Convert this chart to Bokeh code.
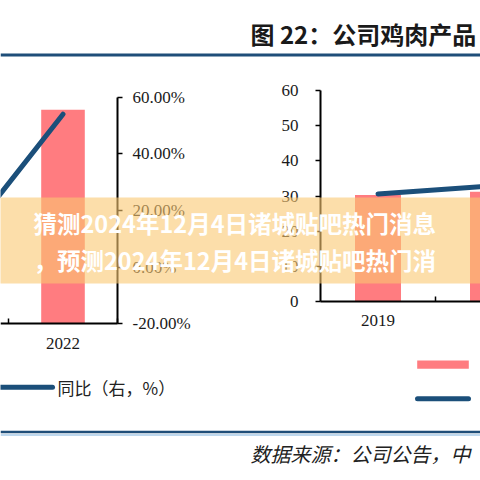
from bokeh.plotting import figure
from bokeh.models import Range1d, LinearAxis, FixedTicker, PrintfTickFormatter, Span
from bokeh.core.properties import value
from bokeh.embed import file_html
from bokeh.resources import INLINE

# ---------------- data ----------------
left_bar_years = [2022]
left_bar_values = [75.6]            # value on the (cropped) left axis
left_line_years = [2021, 2022]
left_yoy_pct = [5.0, 54.0]          # 同比（右，%）
left_pct_ticks = [-20, 0, 20, 40, 60]
left_year_ticks = [2022]
left_year_bounds_ticks = [2021.5, 2022.5]

right_years = [2019, 2020]
right_bar_values = [30.3, 31.2]
right_line_values = [30.6, 32.9]
right_value_ticks = [0, 10, 20, 30, 40, 50, 60]
right_year_ticks = [2019, 2020]
right_year_bounds_ticks = [2019.5, 2020.5]

title_text = "图 22：公司鸡肉产品"
banner_line1 = "猜测2024年12月4日诸城贴吧热门消息"
banner_line2 = "，预测2024年12月4日诸城贴吧热门消"
left_legend_label = "同比（右，%）"
source_text = "数据来源：公司公告，中"

# ---------------- styles ----------------
BAR = "#FF7C80"
LINE = "#1B4F7A"
RULE = "#1F4E79"
TXT = "#1a1a1a"
SERIF = "Liberation Serif"
CJK = "Noto Sans CJK SC"

# The figure covers the whole 480x480 picture.
PX_LO, PX_HI = 0, 480


def span_range(v_a, px_a, v_b, px_b, px_start, px_end):
    k = (v_b - v_a) / (px_b - px_a)
    return Range1d(start=v_a + (px_start - px_a) * k, end=v_a + (px_end - px_a) * k)


p = figure(width=480, height=480,
           x_range=Range1d(PX_LO, PX_HI), y_range=Range1d(PX_HI, PX_LO),
           x_axis_type=None, y_axis_type=None,
           toolbar_location=None, output_backend="svg",
           min_border=0, outline_line_color=None,
           border_fill_color="white", background_fill_color="white")

# chart scales (anchored to where each chart sits in the picture)
p.extra_x_ranges = {
    "lx": span_range(2022, 62.5, 2023, 62.5 + 109, PX_LO, PX_HI),
    "rx": span_range(2019, 377.5, 2020, 377.5 + 115, PX_LO, PX_HI),
}
p.extra_y_ranges = {
    "lpct": span_range(-20, 323.3, 60, 96.7, PX_HI, PX_LO),
    "lval": span_range(0, 323.3, 80, 96.7, PX_HI, PX_LO),
    "ry": span_range(0, 301, 60, 90, PX_HI, PX_LO),
}

# ---------------- left chart ----------------
p.vbar(x=left_bar_years, top=left_bar_values, bottom=0, width=0.4,
       x_range_name="lx", y_range_name="lval", fill_color=BAR, line_color=None)
p.line(left_line_years, left_yoy_pct, x_range_name="lx", y_range_name="lpct",
       line_color=LINE, line_width=5, line_cap="round")


def style_axis(ax):
    ax.axis_line_color = "black"
    ax.axis_line_width = 2
    ax.major_tick_line_color = "black"
    ax.major_tick_line_width = 1.5
    ax.minor_tick_line_color = "black"
    ax.minor_tick_line_width = 1.5
    ax.major_label_text_font = SERIF
    ax.major_label_text_font_size = "17px"
    ax.major_label_text_color = TXT


lx_axis = LinearAxis(x_range_name="lx", y_range_name="lpct", fixed_location=-20,
                     ticker=FixedTicker(ticks=left_year_ticks, minor_ticks=left_year_bounds_ticks),
                     bounds=(2020.5, 2022.5), major_tick_in=0, major_tick_out=0,
                     minor_tick_in=5, minor_tick_out=0, major_label_standoff=14)
style_axis(lx_axis)
p.add_layout(lx_axis, "below")

lpct_axis = LinearAxis(x_range_name="lx", y_range_name="lpct", fixed_location=2022.5,
                       ticker=FixedTicker(ticks=left_pct_ticks, minor_ticks=[]),
                       bounds=(-20, 60), formatter=PrintfTickFormatter(format="%.2f%%"),
                       major_tick_in=0, major_tick_out=5, minor_tick_in=0, minor_tick_out=0,
                       major_label_standoff=10)
style_axis(lpct_axis)
p.add_layout(lpct_axis, "right")

# ---------------- right chart ----------------
p.vbar(x=right_years, top=right_bar_values, bottom=0, width=0.4,
       x_range_name="rx", y_range_name="ry", fill_color=BAR, line_color=None)
p.line(right_years, right_line_values, x_range_name="rx", y_range_name="ry",
       line_color=LINE, line_width=5, line_cap="round")

rx_axis = LinearAxis(x_range_name="rx", y_range_name="ry", fixed_location=0,
                     ticker=FixedTicker(ticks=right_year_ticks, minor_ticks=right_year_bounds_ticks),
                     bounds=(2018.5, 2021.5), major_tick_in=0, major_tick_out=0,
                     minor_tick_in=5, minor_tick_out=0, major_label_standoff=13)
style_axis(rx_axis)
p.add_layout(rx_axis, "below")

ry_axis = LinearAxis(x_range_name="rx", y_range_name="ry", fixed_location=2018.5,
                     ticker=FixedTicker(ticks=right_value_ticks, minor_ticks=[]),
                     bounds=(0, 60), major_tick_in=0, major_tick_out=5,
                     minor_tick_in=0, minor_tick_out=0, major_label_standoff=17)
style_axis(ry_axis)
p.add_layout(ry_axis, "left")

# ---------------- page decorations ----------------
p.add_layout(Span(location=54.5, dimension="width", line_color=RULE, line_width=3))
p.add_layout(Span(location=431.5, dimension="width", line_color=RULE, line_width=2.5))
p.add_layout(Span(location=434.5, dimension="width", line_color="#A9CBE8", line_width=1.5))

p.text(x=[250], y=[33], text=[title_text], text_font=value(CJK), text_font_style="bold",
       text_font_size="24px", text_color=TXT, text_baseline="middle", text_align="left")

# left legend
p.segment(x0=[-5], y0=[386.7], x1=[52], y1=[386.7], line_color=LINE, line_width=5,
          line_cap="round")
p.text(x=[57], y=[387], text=[left_legend_label], text_font=value(CJK),
       text_font_size="17px", text_color="#222222", text_baseline="middle")

# right legend keys (their labels lie beyond the crop)
p.quad(left=[416.7], right=[468.3], top=[360], bottom=[368.3], fill_color=BAR, line_color=None)
p.segment(x0=[417], y0=[398.3], x1=[468], y1=[398.3], line_color=LINE, line_width=5,
          line_cap="round")

# source note
p.text(x=[250], y=[453], text=[source_text], text_font=value(CJK), text_font_style="italic",
       text_font_size="20px", text_color="#222222", text_baseline="middle")

# banner overlay
p.quad(left=[0], right=[480], top=[197], bottom=[283], fill_color="#FAC871",
       fill_alpha=0.6, line_color=None, level="overlay")
p.text(x=[33], y=[222], text=[banner_line1], text_font=value(CJK), text_font_style="bold",
       text_font_size="23.5px", text_color="white", text_baseline="middle", level="overlay")
p.text(x=[33], y=[259], text=[banner_line2], text_font=value(CJK), text_font_style="bold",
       text_font_size="23.5px", text_color="white", text_baseline="middle", level="overlay")

open("out.html", "w").write(file_html(p, INLINE))
